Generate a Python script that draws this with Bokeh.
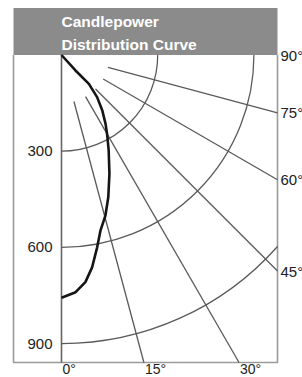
import numpy as np
from bokeh.plotting import figure
from bokeh.models import Range1d
from bokeh.core.properties import value
from bokeh.embed import file_html
from bokeh.resources import INLINE

# ---- data (candela vs angle from nadir) ----
curve_angle_deg = [0, 3.4, 6.0, 8.2, 10.5, 12.5, 15.3, 18.2, 22.0, 26.3, 29.6, 32.6, 36.3, 40.2, 43.5, 42.1, 45]
curve_cd = [757, 741, 712, 669, 610, 561, 519, 467, 399, 332, 289, 255, 215, 172, 124, 65, 0]
ring_values = [300, 600, 900]
ring_labels = ["300", "600", "900"]
ray_angles = [15, 30, 45, 60, 75]
right_label_angles = [90, 75, 60, 45]
right_labels = ["90°", "75°", "60°", "45°"]
bottom_label_angles = [0, 15, 30]
bottom_labels = ["0°", "15°", "30°"]
title_lines = ["Candlepower", "Distribution Curve"]

# ---- layout (in candela units; 1 cd = S px) ----
S = 0.3207
W, H = 302, 377
OX, OY = 61, 54.5          # pixel position of the origin
x0 = -OX / S
y1 = OY / S
BOX_L = (13 - OX) / S
BOX_R = (277 - OX) / S
BOX_B = -(362 - OY) / S
RAY_START = 150

def py(pix):
    """pixel row -> data y"""
    return -(pix - OY) / S

p = figure(width=W, height=H, output_backend="svg", toolbar_location=None,
           x_axis_type=None, y_axis_type=None, min_border=0,
           x_range=Range1d(x0, x0 + W / S), y_range=Range1d(y1 - H / S, y1))
p.outline_line_color = None
p.background_fill_color = "white"
p.border_fill_color = "white"
p.grid.visible = False

# header
p.quad(left=BOX_L, right=BOX_R, bottom=0, top=py(7.5), fill_color="#8b8b8b", line_color=None)

# box
p.line([BOX_L, BOX_L, BOX_R, BOX_R], [0, BOX_B, BOX_B, 0], line_color="#9a9a9a", line_width=1.6)
# vertical axis
p.line([0, 0], [0, BOX_B], line_color="#666666", line_width=1.6)

# rings
for r in ring_values:
    tmax = np.arcsin(min(1.0, BOX_R / r))
    p.arc(x=0, y=0, radius=r, start_angle=-np.pi / 2, end_angle=-np.pi / 2 + tmax,
          direction="anticlock", line_color="#5a5a5a", line_width=1.3)

# rays
for a in ray_angles:
    t = np.radians(a)
    L = min(BOX_R / np.sin(t), -BOX_B / np.cos(t))
    p.line([RAY_START * np.sin(t), L * np.sin(t)], [-RAY_START * np.cos(t), -L * np.cos(t)],
           line_color="#5a5a5a", line_width=1.3)

# curve
th = np.radians(curve_angle_deg)
r = np.array(curve_cd, dtype=float)
p.line(r * np.sin(th), -r * np.cos(th), line_color="#151515", line_width=2.6)

font = value("Liberation Sans")
# ring labels
p.text(x=[-(OX - 52) / S] * 3, y=[-v for v in ring_values], text=ring_labels,
       text_align="right", text_baseline="middle", text_font=font,
       text_font_size="15px", text_color="#222222")

# right labels
ry = []
for a in right_label_angles:
    ry.append(0 if a == 90 else -BOX_R / np.tan(np.radians(a)))
p.text(x=[(280 - OX) / S] * len(right_labels), y=ry, text=right_labels,
       text_align="left", text_baseline="middle", text_font=font,
       text_font_size="15px", text_color="#222222")

# bottom labels
bx = [-BOX_B * np.tan(np.radians(a)) + 1 / S for a in bottom_label_angles]
p.text(x=bx, y=[py(368.5)] * len(bx), text=bottom_labels,
       text_align="left", text_baseline="middle", text_font=font,
       text_font_size="14px", text_color="#222222")

# title
p.text(x=[0, 0], y=[py(21), py(44.3)], text=title_lines,
       text_align="left", text_baseline="middle", text_font=font,
       text_font_style="bold", text_font_size="15.5px", text_color="white")

open("out.html", "w").write(file_html(p, INLINE))
